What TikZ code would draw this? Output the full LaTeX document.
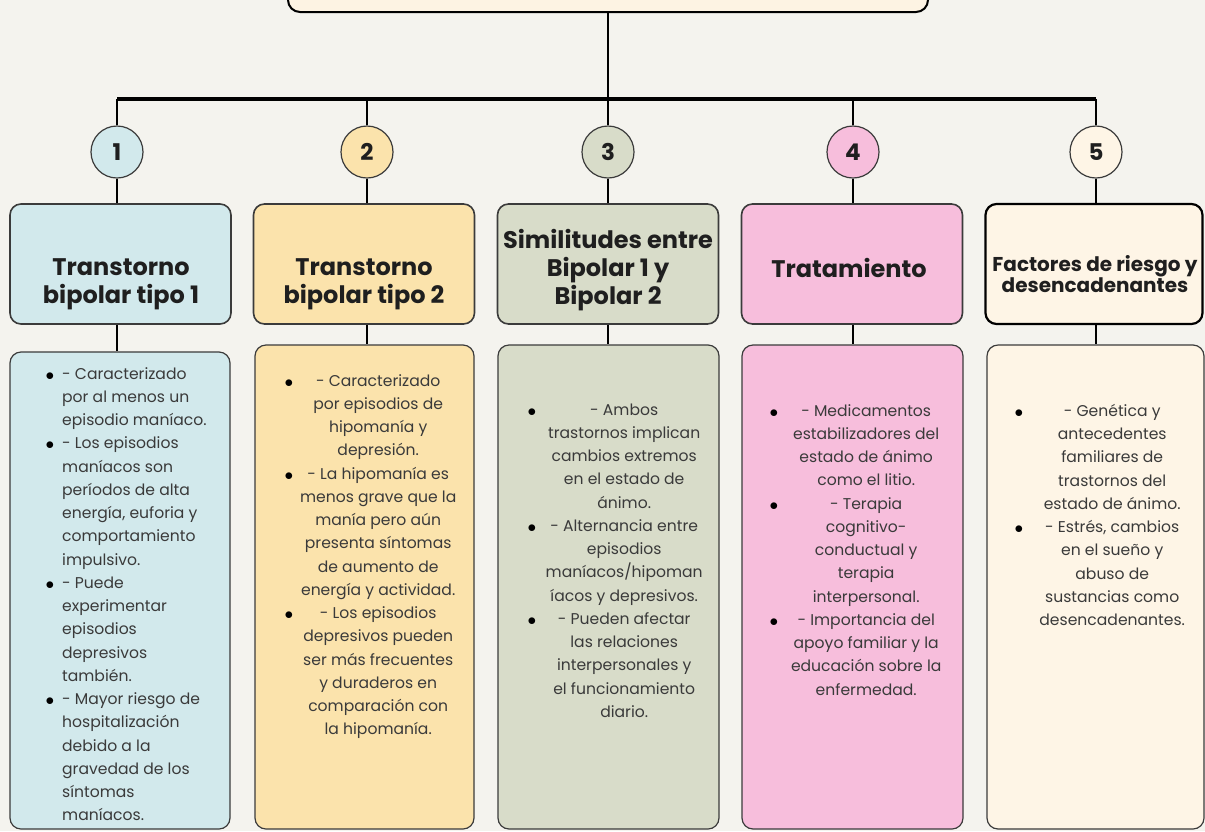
\documentclass[tikz,border=0pt]{standalone}
\usepackage{fontspec}
\setmainfont{Poppins}
\definecolor{bgc}{HTML}{F4F3EE}
\definecolor{topc}{HTML}{FDF3E3}
\definecolor{ca}{HTML}{D2E9EC}
\definecolor{cb}{HTML}{FBE3AC}
\definecolor{cc}{HTML}{D8DCC9}
\definecolor{cd}{HTML}{F7BEDC}
\definecolor{ce}{HTML}{FEF5E6}
\definecolor{txt}{HTML}{3A3A3A}
\definecolor{htxt}{HTML}{1F1F1F}
\definecolor{edge}{HTML}{3B3B3B}
\newlength\twd
\newlength\bgp
\newcommand\srt{\vrule height 12pt depth 0pt width 0pt}
\newcommand\bul{\raisebox{-0.8pt}{\textcolor{black}{\fontsize{19}{19}\selectfont\ensuremath{\bullet}}}}
\newcommand\LnC[1]{\hbox to \twd{\hss\srt #1\hss}}
\newcommand\BuC[1]{\hbox to \twd{\llap{\bul\hskip\bgp}\hss\srt #1\hss}}
\newcommand\LnL[1]{\hbox{\srt #1}}
\newcommand\BuL[1]{\hbox{\llap{\bul\hskip 8pt}\srt #1}}
\tikzset{
  conn/.style={draw=black, line width=2.4pt},
  barline/.style={draw=black, line width=3.4pt},
  topbox/.style={draw=black, line width=2pt, rounded corners=12pt, fill=topc},
  numc/.style={circle, draw=edge, line width=1.2pt, minimum size=52pt, inner sep=0pt, font=\fontsize{23}{23}\selectfont\bfseries, text=htxt},
  headbox/.style={draw=edge, line width=1.6pt, rounded corners=11pt, minimum width=221pt, minimum height=120pt, inner sep=0pt},
  bodybox/.style={draw=edge, line width=1.2pt, rounded corners=11pt, inner sep=0pt},
  headtxt/.style={align=center, inner sep=0pt, text=htxt, font=\fontsize{24}{28}\selectfont\bfseries},
  bodytxt/.style={inner sep=0pt, anchor=north west, text=txt, font=\fontsize{15.6}{23.25}\selectfont},
}
\begin{document}
\begin{tikzpicture}[x=1pt,y=-1pt]
\useasboundingbox[fill=bgc] (0,0) rectangle (1205,831);
% top box
\node[topbox, minimum width=640pt, minimum height=60pt] (top) at (608,-18) {};
% circles
\node[numc, fill=ca] (c1) at (117,152) {1};
\node[numc, fill=cb] (c2) at (367,152) {2};
\node[numc, fill=cc] (c3) at (608,152) {3};
\node[numc, fill=cd] (c4) at (853,152) {4};
\node[numc, fill=ce] (c5) at (1096,152) {5};
\coordinate (bl) at (117,99);
\coordinate (br) at (1096,99);
% header boxes
\node[headbox, fill=ca] (h1) at (120.5,264) {};
\node[headbox, fill=cb] (h2) at (364,264) {};
\node[headbox, fill=cc] (h3) at (608,264) {};
\node[headbox, fill=cd] (h4) at (852,264) {};
\node[headbox, fill=ce, draw=black, line width=2.2pt, minimum width=217pt] (h5) at (1094,264) {};
\node[headtxt] (ht1) at (121,284) {Transtorno\\bipolar tipo 1};
\node[headtxt] (ht2) at (364,284) {Transtorno\\bipolar tipo 2};
\node[headtxt] (ht3) at (608,270) {Similitudes entre\\Bipolar 1 y\\Bipolar 2};
\node[headtxt] (ht4) at (849,268) {Tratamiento};
\node[headtxt, font=\fontsize{20}{19}\selectfont\bfseries] (ht5) at (1095,274) {Factores de riesgo y\\desencadenantes};
% body boxes
\node[bodybox, fill=ca, minimum width=220pt, minimum height=477pt] (b1) at (120,590.5) {};
\node[bodybox, fill=cb, minimum width=219pt, minimum height=484pt] (b2) at (364.5,587) {};
\node[bodybox, fill=cc, minimum width=221pt, minimum height=484pt] (b3) at (608.5,587) {};
\node[bodybox, fill=cd, minimum width=221pt, minimum height=484pt] (b4) at (852.5,587) {};
\node[bodybox, fill=ce, minimum width=217pt, minimum height=484pt] (b5) at (1095.5,587) {};
% connectors
\draw[conn] (top.south) -- (c3.north);
\draw[barline] (bl) -- (br);
\foreach \i in {1,2,4,5} { \draw[conn] (c\i.north) -- (c\i.north |- bl); }
\foreach \i in {1,...,5} {
  \draw[conn] (c\i.south) -- (c\i.south |- h\i.north);
  \draw[conn] (c\i |- h\i.south) -- (c\i |- b\i.north);
}
% body texts
\node[bodytxt] (t1) at (62,367) {\vbox{%
\BuL{- Caracterizado}
\LnL{por al menos un}
\LnL{episodio maníaco.}
\BuL{- Los episodios}
\LnL{maníacos son}
\LnL{períodos de alta}
\LnL{energía, euforia y}
\LnL{comportamiento}
\LnL{impulsivo.}
\BuL{- Puede}
\LnL{experimentar}
\LnL{episodios}
\LnL{depresivos}
\LnL{también.}
\BuL{- Mayor riesgo de}
\LnL{hospitalización}
\LnL{debido a la}
\LnL{gravedad de los}
\LnL{síntomas}
\LnL{maníacos.}}};
\node[bodytxt] (t2) at (297,374) {\vbox{\setlength\twd{162pt}\setlength\bgp{4pt}%
\BuC{- Caracterizado}
\LnC{por episodios de}
\LnC{hipomanía y}
\LnC{depresión.}
\BuC{- La hipomanía es}
\LnC{menos grave que la}
\LnC{manía pero aún}
\LnC{presenta síntomas}
\LnC{de aumento de}
\LnC{energía y actividad.}
\BuC{- Los episodios}
\LnC{depresivos pueden}
\LnC{ser más frecuentes}
\LnC{y duraderos en}
\LnC{comparación con}
\LnC{la hipomanía.}}};
\node[bodytxt] (t3) at (543,403) {\vbox{\setlength\twd{162pt}\setlength\bgp{7pt}%
\BuC{- Ambos}
\LnC{trastornos implican}
\LnC{cambios extremos}
\LnC{en el estado de}
\LnC{ánimo.}
\BuC{- Alternancia entre}
\LnC{episodios}
\LnC{maníacos/hipoman}
\LnC{íacos y depresivos.}
\BuC{- Pueden afectar}
\LnC{las relaciones}
\LnC{interpersonales y}
\LnC{el funcionamiento}
\LnC{diario.}}};
\node[bodytxt] (t4) at (785,404) {\vbox{\setlength\twd{162pt}\setlength\bgp{7pt}%
\BuC{- Medicamentos}
\LnC{estabilizadores del}
\LnC{estado de ánimo}
\LnC{como el litio.}
\BuC{- Terapia}
\LnC{cognitivo-}
\LnC{conductual y}
\LnC{terapia}
\LnC{interpersonal.}
\BuC{- Importancia del}
\LnC{apoyo familiar y la}
\LnC{educación sobre la}
\LnC{enfermedad.}}};
\node[bodytxt] (t5) at (1031,404) {\vbox{\setlength\twd{162pt}\setlength\bgp{8pt}%
\BuC{- Genética y}
\LnC{antecedentes}
\LnC{familiares de}
\LnC{trastornos del}
\LnC{estado de ánimo.}
\BuC{- Estrés, cambios}
\LnC{en el sueño y}
\LnC{abuso de}
\LnC{sustancias como}
\LnC{desencadenantes.}}};
\end{tikzpicture}
\end{document}
